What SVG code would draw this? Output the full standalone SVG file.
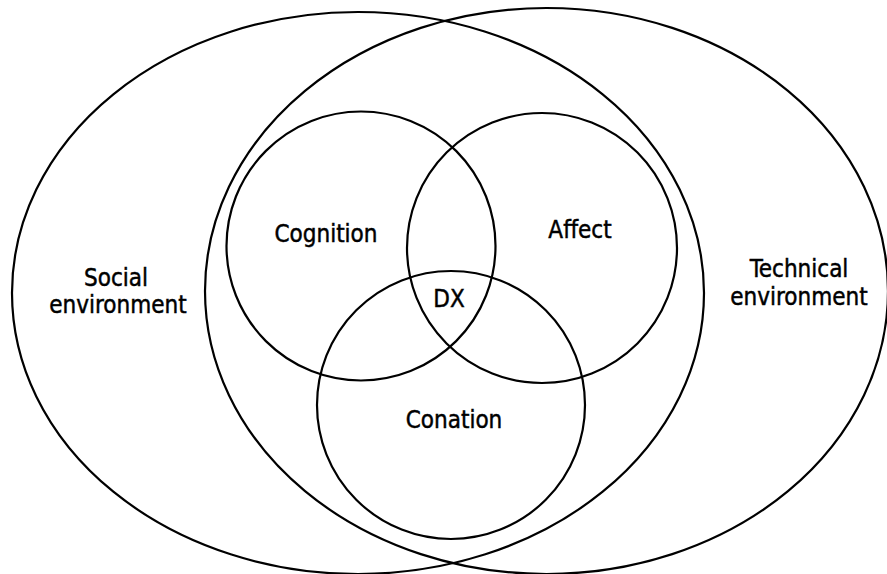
<svg xmlns="http://www.w3.org/2000/svg" width="887" height="574" viewBox="0 0 887 574">
<style>
.s{fill:none;stroke:#000;stroke-width:2.2}
.t{font-family:"DejaVu Sans Condensed","DejaVu Sans",Verdana,sans-serif;font-stretch:condensed;font-size:24px;fill:#000;text-anchor:middle;stroke:#000;stroke-width:0.45}
</style>
<rect width="887" height="574" fill="#fff"/>
<g id="social-environment">
<ellipse class="s" cx="358" cy="293" rx="346" ry="281"/>
<text class="t" x="116" y="286">Social</text>
<text class="t" x="118" y="313">environment</text>
</g>
<g id="technical-environment">
<ellipse class="s" cx="546.5" cy="291" rx="341.5" ry="283"/>
<text class="t" x="799" y="277">Technical</text>
<text class="t" x="799" y="305">environment</text>
</g>
<g id="cognition">
<circle class="s" cx="361" cy="246" r="134.5"/>
<text class="t" x="326" y="242">Cognition</text>
</g>
<g id="affect">
<circle class="s" cx="542" cy="248" r="135"/>
<text class="t" x="580" y="238">Affect</text>
</g>
<g id="conation">
<circle class="s" cx="451" cy="405" r="134"/>
<text class="t" x="454" y="428">Conation</text>
</g>
<g id="dx">
<text class="t" x="449" y="307">DX</text>
</g>
<g id="connectors"></g>
</svg>
